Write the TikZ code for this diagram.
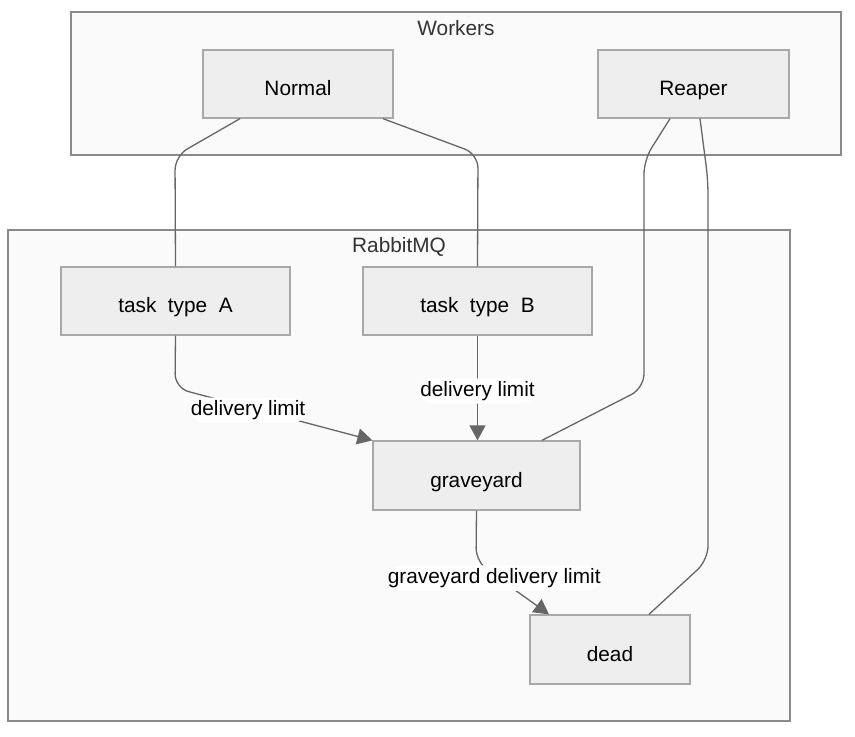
\documentclass[tikz,border=0pt]{standalone}
\usepackage{fontspec}
\setmainfont{Liberation Sans}
\usetikzlibrary{arrows.meta}
\definecolor{clfill}{HTML}{FAFAFA}
\definecolor{clline}{HTML}{8A8A8A}
\definecolor{boxfill}{HTML}{EEEEEE}
\definecolor{boxline}{HTML}{A8A8A8}
\definecolor{edgecol}{HTML}{666666}
\definecolor{titlecol}{HTML}{333333}
\begin{document}
\begin{tikzpicture}[x={(1pt,0pt)}, y={(0pt,-1pt)},
  >={Triangle[length=15pt,width=16pt]},
  font=\fontsize{20.8}{24}\selectfont]
 \tikzstyle{cluster} = [draw=clline, fill=clfill, line width=1.3pt]
 \tikzstyle{title} = [text=titlecol, anchor=base, inner sep=0pt]
 \tikzstyle{queue} = [draw=boxline, fill=boxfill, line width=1.3pt, inner sep=0pt,
   minimum height=68pt, text height=23pt, text depth=0pt]
 \tikzstyle{link} = [draw=edgecol, line width=1.3pt, rounded corners=14pt]
 \tikzstyle{lbl} = [fill=white, inner xsep=1pt, inner ysep=3pt, text=black, yshift=-3pt]

 \useasboundingbox (0,0) rectangle (855,737);

% Clusters
 \draw[cluster] (71,12) rectangle (841,155);
 \node[title] (workers) at (456,35) {Workers};
 \draw[cluster] (8,230) rectangle (790,721);
 \node[title] (rabbit) at (399,252) {RabbitMQ};

% Workers
 \node[queue, minimum width=190pt] (normal) at (298,84) {Normal};
 \node[queue, minimum width=191pt] (reaper) at (693.5,84) {Reaper};

% Queues
 \node[queue, minimum width=229pt] (taskA) at (175.5,301) {task~~type~~A};
 \node[queue, minimum width=229pt] (taskB) at (477.5,301) {task~~type~~B};
 \node[queue, minimum width=207pt, minimum height=69pt] (grave) at (476.5,475.5) {graveyard};
 \node[queue, minimum width=160pt, minimum height=69pt] (dead) at (610,649.5) {dead};

% Consumers
 \draw[link] (normal.south -| 240,0) -- (175,156) -- (taskA.north);
 \draw[link] (normal.south -| 383,0) -- (478,154) -- (taskB.north);
 \draw[link] (reaper.south -| 670,0) -- (644,160) -- (644,388) -- (grave.north -| 542,0);
 \draw[link] (reaper.south -| 700,0) -- (708,180) -- (708,560) -- (dead.north -| 649,0);

% Dead letters
 \draw[link,->] (taskA.south) -- (175,388) -- node[lbl,pos=0.37] {delivery limit} (grave.north west);
 \draw[link,->] (taskB.south) -- node[lbl] {delivery limit} (taskB.south |- grave.north);
 \draw[link,->] (grave.south) -- (476,562) -- node[lbl,pos=0.25] {graveyard delivery limit} (dead.north -| 549,0);
\end{tikzpicture}
\end{document}
